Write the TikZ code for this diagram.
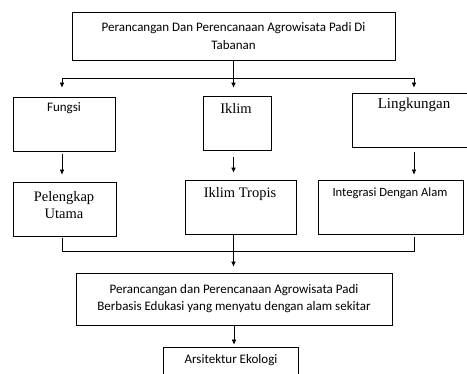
\documentclass[tikz,border=0pt]{standalone}
\usepackage{fontspec}
\newfontfamily\carlito{Carlito}
\newfontfamily\tnr{Liberation Serif}
\usetikzlibrary{arrows.meta}
\begin{document}
\begin{tikzpicture}[x=1pt,y=-1pt,
    box/.style={draw,line width=.6pt,inner sep=0pt},
    cal/.style={font=\carlito\fontsize{13}{18}\selectfont,align=center,inner sep=0pt},
    tms/.style={font=\tnr\fontsize{14.5}{16.5}\selectfont,align=center,inner sep=0pt},
    arr/.style={line width=.6pt,-{Latex[length=5pt,width=4.5pt]}},
    ln/.style={line width=.6pt}]
    \clip (0,0) rectangle (467,374);
    % boxes
    \node[box,cal,minimum width=323pt,minimum height=48pt] (top) at (233.5,36) {Perancangan Dan Perencanaan Agrowisata Padi Di\\Tabanan};
    \node[box,minimum width=102pt,minimum height=54pt] (fungsi) at (64,124) {};
    \node[box,minimum width=68pt,minimum height=54pt] (iklim) at (237,123) {};
    \node[box,minimum width=130pt,minimum height=54pt] (lingk) at (417,120) {};
    \node[box,minimum width=103pt,minimum height=54pt] (pelengkap) at (64.5,209) {};
    \node[box,minimum width=111pt,minimum height=54pt] (tropis) at (240.5,207) {};
    \node[box,minimum width=145pt,minimum height=54pt] (integrasi) at (390.5,207) {};
    \node[box,cal,font=\carlito\fontsize{13}{17}\selectfont,minimum width=316pt,minimum height=52pt] (hasil) at (234,299) {Perancangan dan Perencanaan Agrowisata Padi\\Berbasis Edukasi yang menyatu dengan alam sekitar};
    \node[box,minimum width=135pt,minimum height=43pt] (ekologi) at (230.5,368.5) {};
    % texts
    \node[cal] (fungsiT) at (64,108) {Fungsi};
    \node[tms] (iklimT) at (236,108) {Iklim};
    \node[tms,font=\tnr\fontsize{15}{18}\selectfont] (lingkT) at (414,105) {Lingkungan};
    \node[tms] (pelengkapT) at (64,205) {Pelengkap\\Utama};
    \node[tms] (tropisT) at (240,194) {Iklim Tropis};
    \node[cal,font=\carlito\fontsize{12.6}{15}\selectfont] (integrasiT) at (390,193) {Integrasi Dengan Alam};
    \node[cal] (ekologiT) at (231,360) {Arsitektur Ekologi};
    % branches
    \coordinate (jl) at (62,78);
    \coordinate (jr) at (414,78);
    \draw[ln] (jl) -- (jr);
    \draw[arr] (top.south) -- ([yshift=8pt]top.south |- iklim.north);
    \draw[arr] (jl) -- ([yshift=9pt]jl |- fungsi.north);
    \draw[arr] (jr) -- ([yshift=5pt]jr |- lingk.north);
    \draw[arr] ([yshift=-3pt]jl |- fungsi.south) -- ([yshift=7pt]jl |- pelengkap.north);
    \draw[arr] ([yshift=-7pt]top.south |- iklim.south) -- ([yshift=7pt]top.south |- tropis.north);
    \draw[arr] ([yshift=-5pt]jr |- lingk.south) -- ([yshift=5pt]jr |- integrasi.north);
    % joining
    \coordinate (bl) at (62,251);
    \coordinate (br) at (414,251);
    \draw[ln] ([yshift=-2pt]bl |- pelengkap.south) -- (bl) -- (br) -- ([yshift=-3pt]br |- integrasi.south);
    \draw[arr] (top.south |- tropis.south) -- ([yshift=6pt]top.south |- hasil.north);
    \draw[arr] (hasil.south) -- ([yshift=2pt]hasil.south |- ekologi.north);
\end{tikzpicture}
\end{document}
